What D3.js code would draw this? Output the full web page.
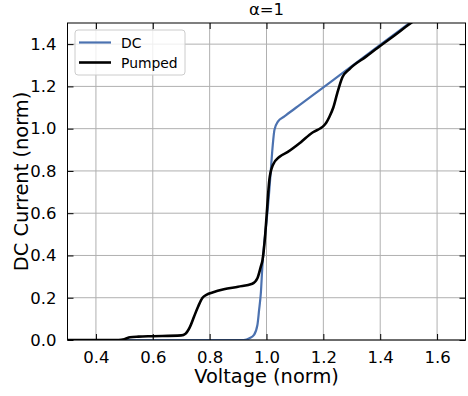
<!DOCTYPE html>
<html>
<head>
<meta charset="utf-8">
<script src="https://cdn.jsdelivr.net/npm/d3@7/dist/d3.min.js"></script>
<style>
  body { margin: 0; background: #fff; }
  svg { display: block; font-family: "DejaVu Sans", sans-serif; }
</style>
</head>
<body>
<svg id="chart" width="468" height="396"></svg>
<script>
// ---- data ----
const title = "α=1";
const xLabel = "Voltage (norm)";
const yLabel = "DC Current (norm)";
const xTicks = [0.4, 0.6, 0.8, 1.0, 1.2, 1.4, 1.6];
const yTicks = [0.0, 0.2, 0.4, 0.6, 0.8, 1.0, 1.2, 1.4];
const seriesNames = ["DC", "Pumped"];

const dcV = [0.3, 0.92, 0.94, 0.956, 0.968, 0.974, 0.98, 0.986, 0.993, 1.0, 1.005, 1.01, 1.0165, 1.022, 1.028, 1.04, 1.063, 1.11, 1.162, 1.232, 1.3, 1.396, 1.5, 1.55];
const dcI = [0, 0, 0.008, 0.024, 0.071, 0.142, 0.22, 0.36, 0.47, 0.56, 0.63, 0.71, 0.827, 0.922, 0.995, 1.033, 1.058, 1.105, 1.157, 1.227, 1.296, 1.393, 1.497, 1.547];

const pumpV = [0.3, 0.48, 0.5, 0.52, 0.55, 0.6, 0.7, 0.715, 0.73, 0.745, 0.76, 0.775, 0.79, 0.81, 0.85, 0.9, 0.95, 0.968, 0.98, 0.986, 0.995, 1.001, 1.01, 1.022, 1.046, 1.075, 1.12, 1.162, 1.19, 1.2, 1.21, 1.221, 1.235, 1.249, 1.267, 1.291, 1.35, 1.396, 1.45, 1.49, 1.52];
const pumpI = [0, 0, 0.004, 0.013, 0.016, 0.018, 0.022, 0.03, 0.06, 0.11, 0.16, 0.2, 0.215, 0.225, 0.24, 0.252, 0.266, 0.292, 0.347, 0.378, 0.49, 0.6, 0.757, 0.827, 0.867, 0.89, 0.935, 0.982, 1.002, 1.012, 1.028, 1.055, 1.1, 1.168, 1.243, 1.281, 1.341, 1.388, 1.441, 1.482, 1.512];

// ---- layout ----
const svg = d3.select("#chart");
const L = 67.5, R = 465.5, T = 23, B = 340;
const x = d3.scaleLinear().domain([0.3, 1.7]).range([L, R]);
const y = d3.scaleLinear().domain([0, 1.5]).range([B, T]);
const colors = ["#4c72b0", "#000000"];

svg.append("defs").append("clipPath").attr("id", "clip")
  .append("rect").attr("x", L).attr("y", T).attr("width", R - L).attr("height", B - T);

// grid
const grid = svg.append("g").attr("stroke", "#b0b0b0").attr("stroke-width", 1);
grid.selectAll(".gx").data(xTicks).join("line")
  .attr("x1", d => x(d)).attr("x2", d => x(d)).attr("y1", T).attr("y2", B);
grid.selectAll(".gy").data(yTicks).join("line")
  .attr("y1", d => y(d)).attr("y2", d => y(d)).attr("x1", L).attr("x2", R);

// lines
const line = d3.line().x(d => x(d[0])).y(d => y(d[1])).curve(d3.curveMonotoneX);
const dcData = dcV.map((v, i) => [v, dcI[i]]);
const pumpData = pumpV.map((v, i) => [v, pumpI[i]]);
const plot = svg.append("g").attr("clip-path", "url(#clip)");
plot.append("path").datum(dcData).attr("d", line).attr("fill", "none")
  .attr("stroke", colors[0]).attr("stroke-width", 2.2);
plot.append("path").datum(pumpData).attr("d", line).attr("fill", "none")
  .attr("stroke", colors[1]).attr("stroke-width", 2.6);

// axes (ticks inward on all sides)
const tickLen = 6;
const fmt = d3.format(".1f");
svg.append("g").attr("transform", `translate(0,${B})`)
  .call(d3.axisBottom(x).tickValues(xTicks).tickSizeInner(-tickLen).tickSizeOuter(0).tickPadding(tickLen + 5).tickFormat(fmt))
  .call(g => g.select(".domain").remove());
svg.append("g").attr("transform", `translate(0,${T})`)
  .call(d3.axisTop(x).tickValues(xTicks).tickSizeInner(-tickLen).tickSizeOuter(0).tickFormat(""))
  .call(g => g.select(".domain").remove());
svg.append("g").attr("transform", `translate(${L},0)`)
  .call(d3.axisLeft(y).tickValues(yTicks).tickSizeInner(-tickLen).tickSizeOuter(0).tickPadding(tickLen + 5).tickFormat(fmt))
  .call(g => g.select(".domain").remove());
svg.append("g").attr("transform", `translate(${R},0)`)
  .call(d3.axisRight(y).tickValues(yTicks).tickSizeInner(-tickLen).tickSizeOuter(0).tickFormat(""))
  .call(g => g.select(".domain").remove());
svg.selectAll(".tick line").attr("stroke", "#000").attr("stroke-width", 1);
svg.selectAll(".tick text").attr("font-family", "DejaVu Sans").attr("font-size", 16.5).attr("fill", "#000");

// frame
svg.append("rect").attr("x", L).attr("y", T).attr("width", R - L).attr("height", B - T)
  .attr("fill", "none").attr("stroke", "#000").attr("stroke-width", 1);

// labels
svg.append("text").attr("x", (L + R) / 2).attr("y", 15).attr("text-anchor", "middle")
  .attr("font-size", 16.5).text(title);
svg.append("text").attr("x", (L + R) / 2).attr("y", 383).attr("text-anchor", "middle")
  .attr("font-size", 19.4).text(xLabel);
svg.append("text").attr("transform", `translate(28,${(T + B) / 2}) rotate(-90)`)
  .attr("text-anchor", "middle").attr("font-size", 19.4).text(yLabel);

// legend
const lg = svg.append("g");
lg.append("rect").attr("x", 75).attr("y", 30).attr("width", 110).attr("height", 45).attr("rx", 3)
  .attr("fill", "#fff").attr("fill-opacity", 0.8).attr("stroke", "#cccccc").attr("stroke-width", 1);
seriesNames.forEach((n, i) => {
  const yy = 42.5 + i * 20;
  lg.append("line").attr("x1", 79).attr("x2", 111).attr("y1", yy).attr("y2", yy)
    .attr("stroke", colors[i]).attr("stroke-width", i === 0 ? 2.2 : 2.6);
  lg.append("text").attr("x", 121).attr("y", yy + 5).attr("font-size", 13.9).text(n);
});
</script>
</body>
</html>
